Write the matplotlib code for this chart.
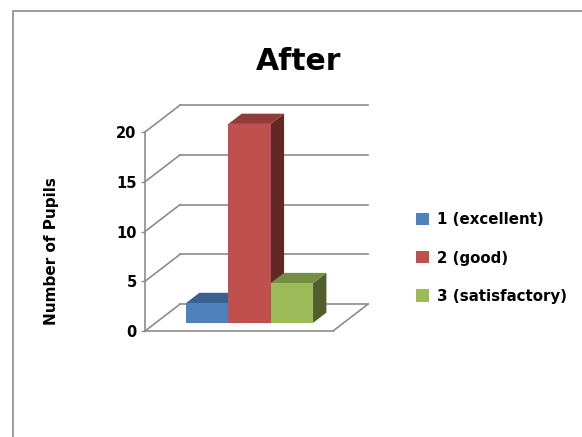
import matplotlib
matplotlib.use('Agg')
import matplotlib.pyplot as plt
from matplotlib.lines import Line2D
from matplotlib.patches import Patch, Polygon

categories = ['1 (excellent)', '2 (good)', '3 (satisfactory)']
pupils = [2, 20, 4]
y_ticks = [0, 5, 10, 15, 20]

W, H = 582, 437
front = ['#4f81bd', '#c0504d', '#9bbb59']
top = ['#3a6290', '#933b39', '#768e43']
side = ['#2c4a6e', '#622826', '#505f2d']
grid_col = '#8c8c8c'

# depth of the box, in x units and y units
DX = 0.83
DY = 2.71
X_MAX = 4.44
GAP = 0.72
Z0, Z1 = 0.30, 0.68

plt.rcParams['font.family'] = ['DejaVu Sans']
plt.rcParams['font.weight'] = 'bold'

fig = plt.figure(figsize=(W / 100, H / 100), dpi=100)
ax = fig.add_axes([145 / W, 1 - 331 / H, 188 / W, 199 / H])
ax.set_xlim(0, X_MAX)
ax.set_ylim(0, 20)


def proj(x, y, z):
    return (x + z * DX, y + z * DY)


# back wall and side wall lines
for t in y_ticks:
    ax.plot(*zip(proj(0, t, 0), proj(0, t, 1)), color=grid_col, lw=1.2, clip_on=False, zorder=1)
    ax.plot(*zip(proj(0, t, 1), proj(X_MAX, t, 1)), color=grid_col, lw=1.2, clip_on=False, zorder=1)
# floor edge on the right
ax.plot(*zip(proj(X_MAX, 0, 0), proj(X_MAX, 0, 1)), color=grid_col, lw=1.2, clip_on=False, zorder=1)

for i, v in enumerate(pupils):
    x0 = GAP + i
    x1 = x0 + 1
    pts_front = [proj(x0, 0, Z0), proj(x1, 0, Z0), proj(x1, v, Z0), proj(x0, v, Z0)]
    pts_top = [proj(x0, v, Z0), proj(x1, v, Z0), proj(x1, v, Z1), proj(x0, v, Z1)]
    pts_side = [proj(x1, 0, Z0), proj(x1, 0, Z1), proj(x1, v, Z1), proj(x1, v, Z0)]
    # later bars sit over the earlier ones
    ax.add_patch(Polygon(pts_side, closed=True, fc=side[i], ec='none', clip_on=False, zorder=2 + i))
    ax.add_patch(Polygon(pts_top, closed=True, fc=top[i], ec='none', clip_on=False, zorder=2 + i))
    ax.add_patch(Polygon(pts_front, closed=True, fc=front[i], ec='none', clip_on=False, zorder=2 + i))

for s in ['top', 'right']:
    ax.spines[s].set_visible(False)
for s in ['left', 'bottom']:
    ax.spines[s].set_color(grid_col)
    ax.spines[s].set_linewidth(1.2)
ax.patch.set_alpha(0)
ax.set_xticks([])
ax.set_yticks(y_ticks)
ax.tick_params(axis='y', length=3, width=1, color=grid_col, labelsize=10.5, pad=3)
ax.set_ylabel('Number of Pupils', fontsize=11, fontweight='bold')
ax.yaxis.set_label_coords((59 - 145) / 188, (331 - 251) / 199)

fig.text(299 / W, 1 - 61 / H, 'After', fontsize=21.5, fontweight='bold', ha='center', va='center')

handles = [Patch(fc=c, ec='none') for c in front]
fig.legend(handles, categories, loc='center left', bbox_to_anchor=(416 / W, 1 - 258 / H),
           frameon=False, fontsize=10.8, handlelength=0.88, handleheight=0.88,
           handletextpad=0.5, labelspacing=1.55, borderpad=0, borderaxespad=0)

# outer chart frame
fig.add_artist(Line2D([12.5 / W, 12.5 / W, 1], [0, 1 - 10.5 / H, 1 - 10.5 / H], color='#8a8a8a', lw=1.2))

fig.savefig('out.png', dpi=100)
